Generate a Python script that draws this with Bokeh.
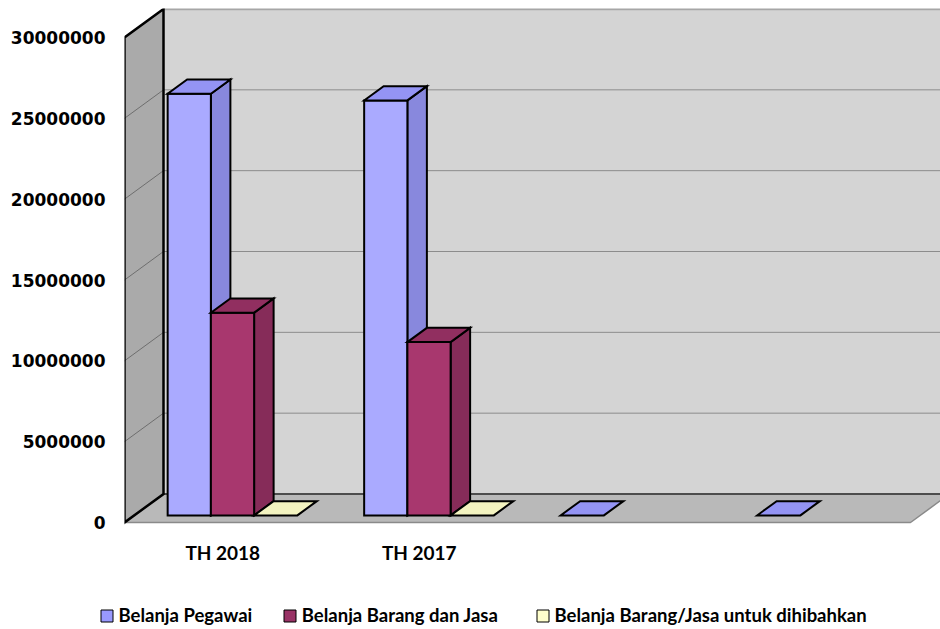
from bokeh.plotting import figure
from bokeh.models import Range1d, FixedTicker, Legend, LegendItem
from bokeh.embed import file_html
from bokeh.resources import INLINE

# ---------------- data ----------------
categories = ["TH 2018", "TH 2017", "", ""]
series_names = ["Belanja Pegawai", "Belanja Barang dan Jasa", "Belanja Barang/Jasa untuk dihibahkan"]
belanja_pegawai = [26080000, 25670000, 0, 0]
belanja_barang_jasa = [12540000, 10720000, None, None]
belanja_hibah = [0, 0, None, None]
y_ticks = [0, 5000000, 10000000, 15000000, 20000000, 25000000, 30000000]
y_tick_labels = ["0", "5000000", "10000000", "15000000", "20000000", "25000000", "30000000"]

# ---------------- styling ----------------
base_colors = ["#9999FF", "#993366", "#FFFFCC"]
front_colors = ["#AAAAFF", "#A8376E", "#F7F7C6"]
top_colors = ["#9494F4", "#912F60", "#F3F3C0"]
side_colors = ["#8888DD", "#862C59", "#DADAA8"]

FIG_W, FIG_H = 940, 580
LEG_H = 48
LEFT, TOP = 124, 8
FRAME_W, FRAME_H = FIG_W - LEFT, 522
PX_CAT = 196.5
PX_VAL = 485.0 / 30000000
BOTTOM_PAD = 8
XS, XE = 0.0, FRAME_W / PX_CAT
YS = -BOTTOM_PAD / PX_VAL
YE = YS + FRAME_H / PX_VAL
VMAX = y_ticks[-1]
NCAT = len(categories)

DX = 39.0 / PX_CAT
DY = 28.5 / PX_VAL
BW = 0.22
GAP = (1 - 3 * BW) / 2
F0, F1 = 0.25, 0.75

p = figure(width=FIG_W, height=FIG_H, output_backend="svg", toolbar_location=None,
           x_range=Range1d(XS, XE), y_range=Range1d(YS, YE),
           min_border_left=LEFT, min_border_right=0, min_border_top=TOP,
           min_border_bottom=FIG_H - FRAME_H - TOP)
p.grid.visible = False
p.outline_line_color = None
p.background_fill_color = "white"
p.border_fill_color = "white"

# back wall
p.patch([DX, XE + 1, XE + 1, DX], [DY, DY, VMAX + DY, VMAX + DY],
        fill_color="#D4D4D4", line_color=None)
p.line([DX, XE + 1], [VMAX + DY, VMAX + DY], line_color="#A6A6A6", line_width=2.5)
for t in y_ticks[1:-1]:
    p.line([DX, XE + 1], [t + DY, t + DY], line_color="#8C8C8C", line_width=1)

# floor
p.patch([0, NCAT, NCAT + DX, DX], [0, 0, DY, DY],
        fill_color="#B9B9B9", line_color="#8A8A8A", line_width=1.5)
p.line([DX, XE + 1], [DY, DY], line_color="#333333", line_width=1.5)

# left wall
p.patch([0, 0, DX, DX], [0, VMAX, VMAX + DY, DY], fill_color="#AAAAAA", line_color=None)
for t in y_ticks[1:-1]:
    p.line([0, DX], [t, t + DY], line_color="#6E6E6E", line_width=1)
p.patch([0, 0, DX, DX], [0, VMAX, VMAX + DY, DY], fill_color=None,
        line_color="black", line_width=2.5, line_join="miter")

# bars
all_series = [belanja_pegawai, belanja_barang_jasa, belanja_hibah]
for s, vals in enumerate(all_series):
    fx, fy, tx, ty, sx, sy = [], [], [], [], [], []
    for c, v in enumerate(vals):
        if v is None:
            continue
        x0 = c + GAP + s * BW
        x1 = x0 + BW
        tx.append([x0 + F0 * DX, x1 + F0 * DX, x1 + F1 * DX, x0 + F1 * DX])
        ty.append([v + F0 * DY, v + F0 * DY, v + F1 * DY, v + F1 * DY])
        if v > 0:
            fx.append([x0 + F0 * DX, x1 + F0 * DX, x1 + F0 * DX, x0 + F0 * DX])
            fy.append([F0 * DY, F0 * DY, v + F0 * DY, v + F0 * DY])
            sx.append([x1 + F0 * DX, x1 + F1 * DX, x1 + F1 * DX, x1 + F0 * DX])
            sy.append([F0 * DY, F1 * DY, v + F1 * DY, v + F0 * DY])
    if sx:
        p.patches(sx, sy, fill_color=side_colors[s], line_color="black", line_width=2, line_join="miter")
    if fx:
        p.patches(fx, fy, fill_color=front_colors[s], line_color="black", line_width=2, line_join="miter")
    if tx:
        p.patches(tx, ty, fill_color=top_colors[s], line_color="black", line_width=2, line_join="miter")

# axes
p.yaxis.ticker = FixedTicker(ticks=y_ticks)
p.yaxis.major_label_overrides = {t: l for t, l in zip(y_ticks, y_tick_labels)}
p.yaxis.axis_line_color = None
p.yaxis.major_tick_line_color = None
p.yaxis.minor_tick_line_color = None
p.yaxis.major_tick_out = 0
p.yaxis.major_tick_in = 0
p.yaxis.major_label_standoff = 19
p.yaxis.major_label_text_font = "DejaVu Sans"
p.yaxis.major_label_text_font_style = "bold"
p.yaxis.major_label_text_font_size = "17px"
p.yaxis.major_label_text_color = "black"

cat_ticks = [c + 0.5 for c in range(NCAT)]
p.xaxis.ticker = FixedTicker(ticks=cat_ticks)
p.xaxis.major_label_overrides = {t: l for t, l in zip(cat_ticks, categories)}
p.xaxis.axis_line_color = None
p.xaxis.major_tick_line_color = None
p.xaxis.minor_tick_line_color = None
p.xaxis.major_tick_out = 0
p.xaxis.major_tick_in = 0
p.xaxis.major_label_standoff = 10
p.xaxis.major_label_text_font = "Lato"
p.xaxis.major_label_text_font_style = "bold"
p.xaxis.major_label_text_font_size = "19px"
p.xaxis.major_label_text_color = "black"

# legend strip (separate small figure below the chart)
lp = figure(width=FIG_W, height=LEG_H, output_backend="svg", toolbar_location=None,
            x_range=Range1d(0, FIG_W), y_range=Range1d(0, LEG_H),
            x_axis_type=None, y_axis_type=None,
            min_border_left=0, min_border_right=0, min_border_top=0, min_border_bottom=0)
lp.grid.visible = False
lp.outline_line_color = None
legend_x = [98.5, 281.8, 534.5]
nan = float("nan")
for s, name in enumerate(series_names):
    r = lp.quad(left=[nan], right=[nan], top=[nan], bottom=[nan], fill_color=base_colors[s],
                line_color="black", line_width=1)
    lg = Legend(items=[LegendItem(label=name, renderers=[r])],
                location=(legend_x[s], 2), orientation="horizontal",
                glyph_width=15, glyph_height=15, label_height=15, label_standoff=5,
                padding=0, margin=0, border_line_color=None, background_fill_alpha=0,
                label_text_font="Lato", label_text_font_style="bold",
                label_text_font_size="18.5px", label_text_color="black")
    lp.add_layout(lg, "center")

open("out.html", "w").write(file_html([p, lp], INLINE))
